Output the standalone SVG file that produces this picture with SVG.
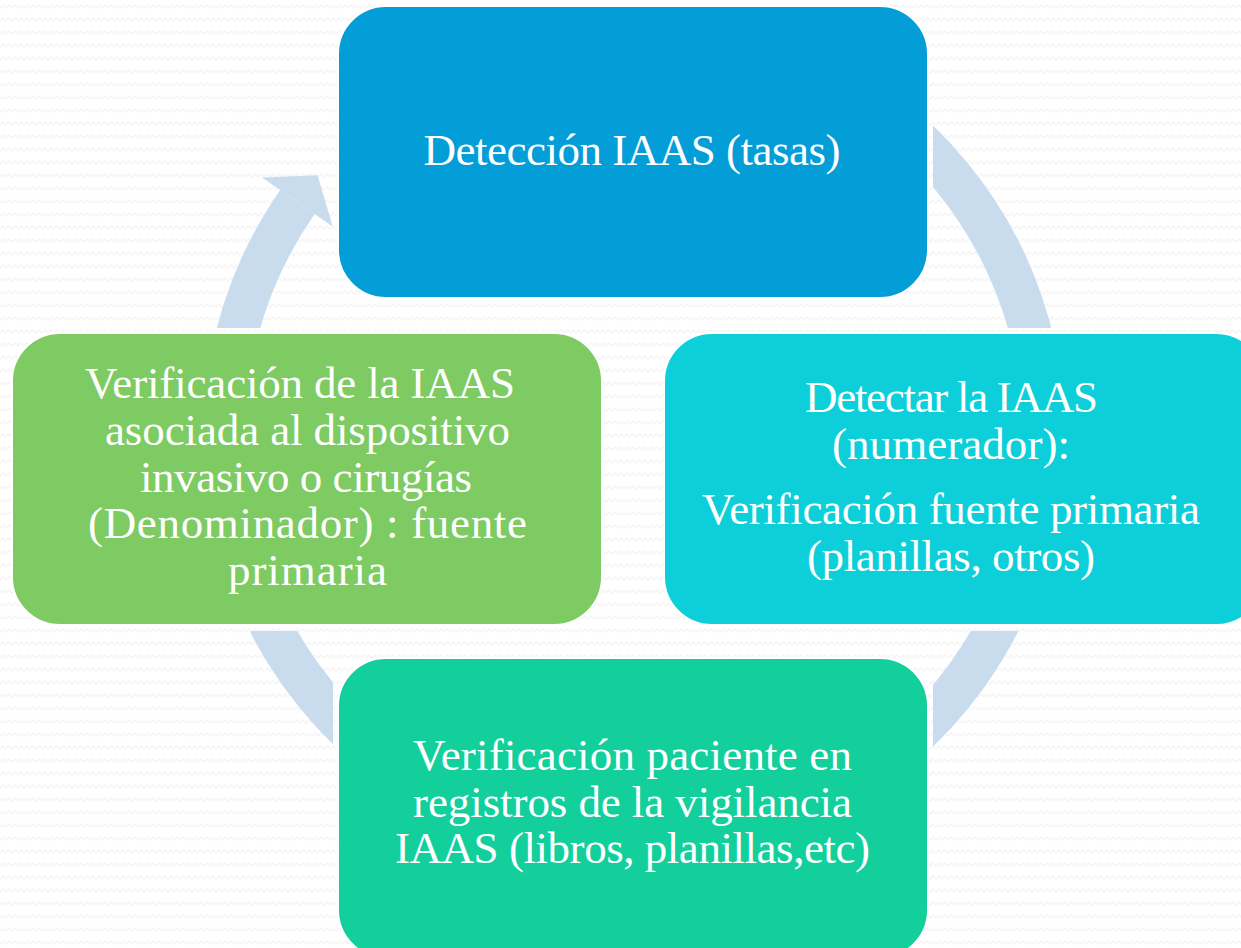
<svg xmlns="http://www.w3.org/2000/svg" width="1241" height="948" viewBox="0 0 1241 948">
<style>
.box{stroke:#ffffff;stroke-width:2}
.t{font-family:"Liberation Serif","Times New Roman",serif;font-size:45px;fill:#ffffff;text-anchor:middle}
.ring{fill:none;stroke:#c9dcee;stroke-width:42}
</style>
<defs>
<pattern id="bg" width="12" height="13" patternUnits="userSpaceOnUse">
<rect width="12" height="13" fill="#ffffff"/>
<polyline points="0,8 3,5 6,8 9,5 12,8" fill="none" stroke="#f4f4f4" stroke-width="1.3"/>
</pattern>
<mask id="m" maskUnits="userSpaceOnUse" x="0" y="0" width="1241" height="948">
<rect x="0" y="0" width="1241" height="948" fill="#ffffff"/>
<rect x="333" y="0" width="600" height="303" fill="#000000"/>
<rect x="659" y="328" width="600" height="303" fill="#000000"/>
<rect x="7" y="328" width="600" height="303" fill="#000000"/>
<rect x="333" y="653" width="600" height="300" fill="#000000"/>
</mask>
</defs>
<rect width="1241" height="948" fill="url(#bg)"/>
<g id="connectors" mask="url(#m)">
<path class="ring" d="M634,26 A410,410 0 1 1 297.4,202.0"/>
<polygon points="332.7,226.6 262.0,177.5 317.6,175.2" fill="#c9dcee"/>
</g>
<g id="node-top">
<rect class="box" x="338" y="6" width="590" height="292" rx="48" fill="#039dd8"/>
<text class="t" x="632" y="165" textLength="417">Detección IAAS (tasas)</text>
</g>
<g id="node-right">
<rect class="box" x="664" y="333" width="600" height="292" rx="48" fill="#0dcfd9"/>
<text class="t" x="951.5" y="412" textLength="293">Detectar la IAAS</text>
<text class="t" x="951" y="459" textLength="238">(numerador):</text>
<text class="t" x="951" y="524" textLength="498">Verificación fuente primaria</text>
<text class="t" x="951" y="571" textLength="288">(planillas, otros)</text>
</g>
<g id="node-left">
<rect class="box" x="12" y="333" width="590" height="292" rx="48" fill="#7dcb62"/>
<text class="t" x="300" y="398" textLength="430">Verificación de la IAAS</text>
<text class="t" x="307.5" y="445" textLength="405">asociada al dispositivo</text>
<text class="t" x="306" y="492" textLength="332">invasivo o cirugías</text>
<text class="t" x="307.5" y="538" textLength="439">(Denominador) : fuente</text>
<text class="t" x="307.5" y="585" textLength="159">primaria</text>
</g>
<g id="node-bottom">
<rect class="box" x="338" y="658" width="590" height="300" rx="48" fill="#12cf9b"/>
<text class="t" x="632.5" y="770" textLength="439">Verificación paciente en</text>
<text class="t" x="632.5" y="817" textLength="439">registros de la vigilancia</text>
<text class="t" x="632.5" y="863" textLength="475">IAAS (libros, planillas,etc)</text>
</g>
</svg>
